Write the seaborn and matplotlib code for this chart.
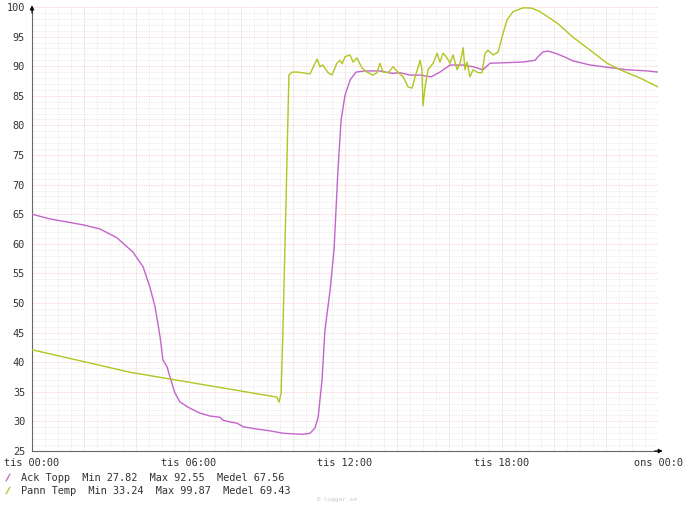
import matplotlib
matplotlib.use("Agg")
import matplotlib.pyplot as plt
from matplotlib.lines import Line2D
import seaborn as sns
import pandas as pd

# Ack Topp (lila) - timmar fran tis 00:00 och temperatur
ack_timme = [0.00, 0.69, 1.96, 2.61, 3.26, 3.87, 4.26, 4.52, 4.72, 4.91, 5.02, 5.18,
             5.29, 5.48, 5.67, 5.98, 6.44, 6.83, 7.21, 7.32, 7.59, 7.86, 8.09, 8.63,
             9.13, 9.62, 10.01, 10.39, 10.66, 10.85, 10.97, 11.12, 11.23, 11.43, 11.58,
             11.73, 11.85, 12.00, 12.20, 12.42, 12.77, 13.34, 13.80, 14.11, 14.50, 14.88,
             15.30, 15.64, 16.03, 16.53, 16.91, 17.29, 17.56, 18.20, 18.83, 19.29, 19.40,
             19.59, 19.79, 20.05, 20.40, 20.74, 21.40, 22.28, 22.81, 23.58, 24.00]
ack_temp = [65.0, 64.2, 63.2, 62.5, 61.0, 58.6, 56.1, 52.7, 49.3, 44.3, 40.4, 39.2,
            37.5, 34.8, 33.3, 32.4, 31.4, 30.9, 30.7, 30.2, 29.9, 29.7, 29.1, 28.7,
            28.4, 28.0, 27.9, 27.82, 28.0, 28.9, 30.7, 37.0, 45.4, 52.2, 59.0,
            72.5, 80.9, 85.1, 87.7, 89.0, 89.2, 89.2, 88.8, 88.9, 88.5, 88.5,
            88.2, 89.0, 90.2, 90.2, 89.9, 89.4, 90.5, 90.6, 90.7, 91.0, 91.6,
            92.4, 92.55, 92.2, 91.6, 90.9, 90.2, 89.7, 89.4, 89.2, 89.0]

# Pann Temp (gulgron)
pann_timme = [0.00, 3.76, 9.39, 9.47, 9.55, 9.62, 9.74, 9.85, 9.97, 10.20, 10.35, 10.66,
              10.93, 11.04, 11.15, 11.35, 11.50, 11.69, 11.81, 11.89, 12.00, 12.19, 12.31,
              12.46, 12.65, 12.85, 13.07, 13.23, 13.34, 13.46, 13.65, 13.84, 14.03, 14.23,
              14.42, 14.57, 14.69, 14.88, 14.95, 14.99, 15.07, 15.18, 15.38, 15.53, 15.64,
              15.76, 15.91, 16.03, 16.14, 16.30, 16.41, 16.53, 16.60, 16.68, 16.79, 16.91,
              17.10, 17.25, 17.37, 17.48, 17.68, 17.87, 18.02, 18.21, 18.44, 18.83, 19.17,
              19.48, 20.13, 20.74, 21.40, 22.05, 22.55, 23.31, 24.00]
pann_temp = [42.1, 38.3, 34.1, 33.24, 34.8, 45.4, 67.4, 88.5, 89.0, 89.0, 88.9, 88.7,
             91.2, 89.9, 90.2, 88.9, 88.5, 90.5, 91.0, 90.4, 91.6, 91.9, 90.7,
             91.4, 89.7, 89.0, 88.5, 88.9, 90.5, 89.0, 88.9, 89.9, 89.0, 88.2,
             86.5, 86.3, 88.2, 91.0, 89.4, 83.3, 86.5, 89.4, 90.5, 92.2, 90.7,
             92.2, 91.4, 90.5, 91.9, 89.4, 90.5, 93.1, 89.4, 90.7, 88.2, 89.4,
             88.9, 88.9, 92.2, 92.7, 91.9, 92.4, 94.9, 97.8, 99.2, 99.87, 99.8,
             99.2, 97.3, 94.9, 92.7, 90.5, 89.4, 88.0, 86.5]

serier = ["Ack Topp", "Pann Temp"]
farger = ["#c265cb", "#b2c520"]
statistik = [("27.82", "92.55", "67.56"), ("33.24", "99.87", "69.43")]

x_etiketter = ["tis 00:00", "tis 06:00", "tis 12:00", "tis 18:00", "ons 00:0"]

df = pd.concat([
    pd.DataFrame({"timme": ack_timme, "temp": ack_temp, "serie": serier[0]}),
    pd.DataFrame({"timme": pann_timme, "temp": pann_temp, "serie": serier[1]}),
])

sns.set_style("white")
plt.rcParams["font.family"] = ["DejaVu Sans Mono"]
textfarg = "#333333"

fig = plt.figure(figsize=(7, 5.08), dpi=100)
ax = fig.add_axes([32 / 700, 57 / 508, 626 / 700, 444 / 508])

sns.lineplot(data=df, x="timme", y="temp", hue="serie", palette=dict(zip(serier, farger)),
             estimator=None, sort=False, legend=False, linewidth=1.0, ax=ax, zorder=3)

ax.set_xlim(0, 24)
ax.set_ylim(25, 100)

# rutnat: minor var 30 min / 1 grad, major var 2 h / 5 grader
ax.set_xticks([t * 0.5 for t in range(49)], minor=True)
ax.set_xticks(list(range(0, 25, 2)))
ax.set_xticklabels([x_etiketter[i // 6] if i % 6 == 0 else "" for i in range(0, 25, 2)])
ax.set_yticks(list(range(25, 101)), minor=True)
ax.set_yticks(list(range(25, 101, 5)))
ax.grid(which="minor", color="#e6e6e6", linestyle=(0, (1, 1)), linewidth=0.6)
ax.grid(which="major", color="#f3c8c8", linestyle=(0, (1, 1)), linewidth=0.6)
ax.set_axisbelow(True)

ax.tick_params(axis="both", which="major", labelsize=7.4, colors=textfarg,
               length=3, width=0.7, pad=2)
ax.tick_params(axis="both", which="minor", length=0)
ax.set_xlabel("")
ax.set_ylabel("")

for side in ["top", "right"]:
    ax.spines[side].set_visible(False)
for side in ["left", "bottom"]:
    ax.spines[side].set_color("#666666")
    ax.spines[side].set_linewidth(0.8)

# pilar pa axlarna
ax.annotate("", xy=(1.012, 0), xytext=(0.99, 0), xycoords="axes fraction",
            arrowprops=dict(arrowstyle="-|>", color="black", lw=0.8, mutation_scale=6))
ax.annotate("", xy=(0, 1.01), xytext=(0, 0.98), xycoords="axes fraction",
            arrowprops=dict(arrowstyle="-|>", color="black", lw=0.8, mutation_scale=6))

# forklaring
for i, (namn, farg, (mn, mx, medel)) in enumerate(zip(serier, farger, statistik)):
    yc = 1 - (478 + 13 * i) / 508
    fig.add_artist(Line2D([6 / 700, 10 / 700], [yc - 3 / 508, yc + 4 / 508],
                          color=farg, linewidth=0.9))
    fig.text(21 / 700, yc, f"{namn}  Min {mn}  Max {mx}  Medel {medel}",
             fontsize=7.4, color=textfarg, va="center", ha="left")

fig.text(337 / 700, 1 - 500 / 508, "E-logger.se", fontsize=4.5, color="#c8c8c8",
         ha="center", va="center")

fig.savefig("out.png", dpi=100, facecolor="white")
